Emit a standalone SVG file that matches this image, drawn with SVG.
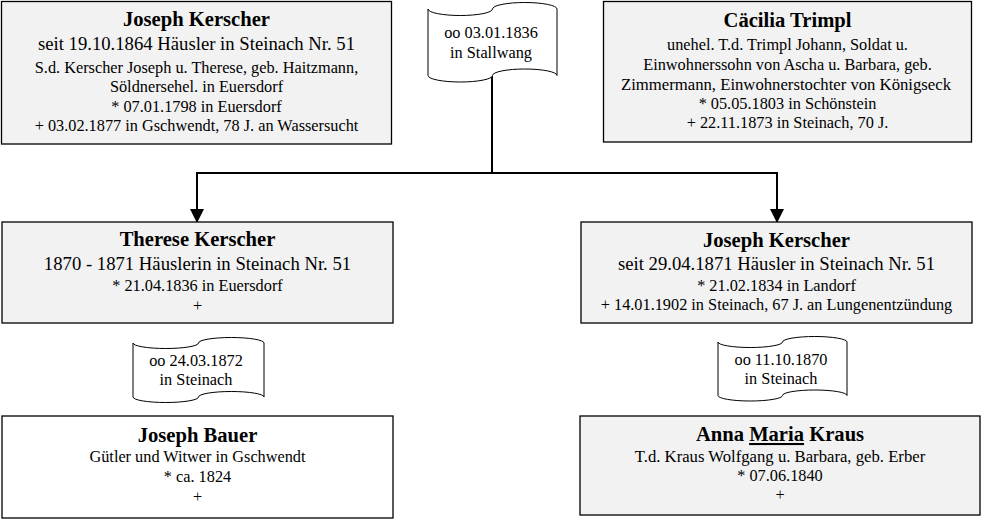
<svg xmlns="http://www.w3.org/2000/svg" width="981" height="519" viewBox="0 0 981 519">
<style>
  .box{stroke:#000;stroke-width:1.3}
  .gray{fill:#f2f2f2}
  .white{fill:#fff}
  .flag{fill:#fff;stroke:#000;stroke-width:1}
  text{font-family:"Liberation Serif","Times New Roman",serif;fill:#000;text-anchor:middle}
  .n{font-size:20.6px;font-weight:bold}
  .l{font-size:18.7px}
  .s{font-size:16.3px}
  .c{font-size:16.7px}
  .conn{fill:none;stroke:#000;stroke-width:2}
</style>
<defs>
  <marker id="arr" markerUnits="userSpaceOnUse" markerWidth="14" markerHeight="14" refX="13" refY="7" orient="auto">
    <path d="M0,0 L14,7 L0,14 Z" fill="#000"/>
  </marker>
</defs>
<rect width="981" height="519" fill="#fff"/>

<g id="connectors">
  <path class="conn" d="M492,76 V173"/>
  <path class="conn" d="M196,173 H778"/>
  <path class="conn" d="M197,173 V222" marker-end="url(#arr)"/>
  <path class="conn" d="M777,173 V222" marker-end="url(#arr)"/>
</g>

<g id="joseph-kerscher-sen">
  <rect class="box gray" x="1.5" y="1.5" width="390" height="142.5"/>
  <text class="n" x="196.5" y="26">Joseph Kerscher</text>
  <text class="l" x="196.5" y="50">seit 19.10.1864 Häusler in Steinach Nr. 51</text>
  <text class="s" x="196.5" y="73">S.d. Kerscher Joseph u. Therese, geb. Haitzmann,</text>
  <text class="s" x="196.5" y="92">Söldnersehel. in Euersdorf</text>
  <text class="s" x="196.5" y="112">* 07.01.1798 in Euersdorf</text>
  <text class="s" x="196.5" y="131">+ 03.02.1877 in Gschwendt, 78 J. an Wassersucht</text>
</g>

<g id="marriage-1836">
  <path class="flag" d="M428,9 A32.25,6.5 0 0 0 492.5,9 A32.25,6.5 0 0 1 557,9 L557,75.5 A32.25,6.5 0 0 0 492.5,75.5 A32.25,6.5 0 0 1 428,75.5 Z"/>
  <text class="s" x="491" y="38">oo 03.01.1836</text>
  <text class="s" x="491" y="58">in Stallwang</text>
</g>

<g id="caecilia-trimpl">
  <rect class="box gray" x="603.5" y="1.5" width="368" height="140.5"/>
  <text class="n" x="787.5" y="27">Cäcilia Trimpl</text>
  <text class="s" x="787.5" y="50">unehel. T.d. Trimpl Johann, Soldat u.</text>
  <text class="s" x="787.5" y="70">Einwohnerssohn von Ascha u. Barbara, geb.</text>
  <text class="c" x="786" y="90">Zimmermann, Einwohnerstochter von Königseck</text>
  <text class="s" x="787.5" y="109">* 05.05.1803 in Schönstein</text>
  <text class="s" x="787.5" y="128">+ 22.11.1873 in Steinach, 70 J.</text>
</g>

<g id="therese-kerscher">
  <rect class="box gray" x="2" y="222" width="391" height="101"/>
  <text class="n" x="197.5" y="246">Therese Kerscher</text>
  <text class="l" x="197.5" y="270">1870 - 1871 Häuslerin in Steinach Nr. 51</text>
  <text class="s" x="197.5" y="291">* 21.04.1836 in Euersdorf</text>
  <text class="s" x="197.5" y="311">+</text>
</g>

<g id="joseph-kerscher-jun">
  <rect class="box gray" x="581" y="222" width="391" height="101"/>
  <text class="n" x="776.5" y="247">Joseph Kerscher</text>
  <text class="l" x="776.5" y="270">seit 29.04.1871 Häusler in Steinach Nr. 51</text>
  <text class="s" x="776.5" y="291">* 21.02.1834 in Landorf</text>
  <text class="s" x="776.5" y="310">+ 14.01.1902 in Steinach, 67 J. an Lungenentzündung</text>
</g>

<g id="marriage-1872">
  <path class="flag" d="M133,343 A32.75,5.5 0 0 0 198.5,343 A32.75,5.5 0 0 1 264,343 L264,397 A32.75,5.5 0 0 0 198.5,397 A32.75,5.5 0 0 1 133,397 Z"/>
  <text class="s" x="196" y="366">oo 24.03.1872</text>
  <text class="s" x="196" y="385">in Steinach</text>
</g>

<g id="marriage-1870">
  <path class="flag" d="M718,342 A32.25,5.5 0 0 0 782.5,342 A32.25,5.5 0 0 1 847,342 L847,395.5 A32.25,5.5 0 0 0 782.5,395.5 A32.25,5.5 0 0 1 718,395.5 Z"/>
  <text class="s" x="781" y="365">oo 11.10.1870</text>
  <text class="s" x="781" y="384">in Steinach</text>
</g>

<g id="joseph-bauer">
  <rect class="box white" x="2" y="416" width="391" height="102"/>
  <text class="n" x="197.5" y="442">Joseph Bauer</text>
  <text class="s" x="197.5" y="462">Gütler und Witwer in Gschwendt</text>
  <text class="s" x="197.5" y="482">* ca. 1824</text>
  <text class="s" x="197.5" y="502">+</text>
</g>

<g id="anna-maria-kraus">
  <rect class="box gray" x="580" y="416" width="400" height="99"/>
  <text class="n" x="780" y="441">Anna <tspan text-decoration="underline">Maria</tspan> Kraus</text>
  <text class="c" x="780" y="462">T.d. Kraus Wolfgang u. Barbara, geb. Erber</text>
  <text class="s" x="780" y="481">* 07.06.1840</text>
  <text class="s" x="780" y="500">+</text>
</g>
</svg>
